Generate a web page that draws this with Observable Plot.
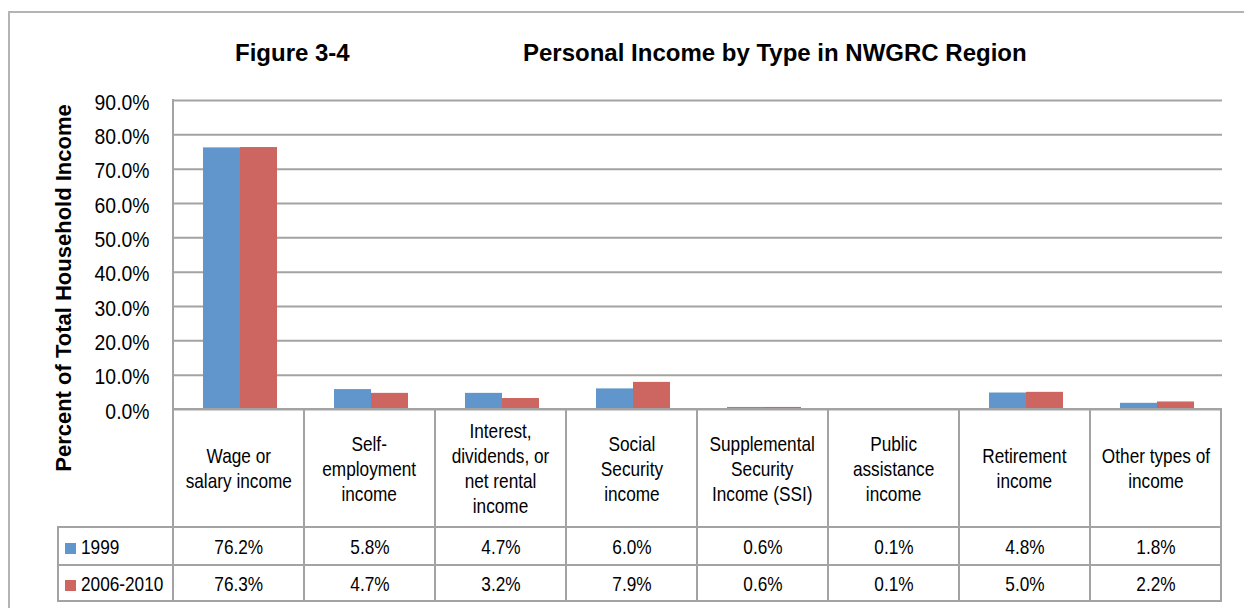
<!DOCTYPE html>
<html><head><meta charset="utf-8">
<script src="https://cdn.jsdelivr.net/npm/d3@7"></script>
<script src="https://cdn.jsdelivr.net/npm/@observablehq/plot@0.6"></script>
<style>
body{margin:0;background:#fff;}
#wrap{position:relative;width:1244px;height:608px;overflow:hidden;font-family:"Liberation Sans",Arial,sans-serif;color:#000;}
#outer{position:absolute;left:8px;top:11px;width:1300px;height:700px;border:2px solid #b4b4b4;box-sizing:border-box;}
.title{position:absolute;top:41px;font-weight:bold;font-size:24px;line-height:24px;white-space:nowrap;}
#ylabel{position:absolute;font-weight:bold;font-size:22px;line-height:22px;white-space:nowrap;transform:translate(-50%,-50%) rotate(-90deg);}
#chart{position:absolute;left:0;top:0;}
#tbl{position:absolute;border-collapse:collapse;table-layout:fixed;font-family:"Liberation Sans",Arial,sans-serif;font-size:21px;}
#tbl td{border:2px solid #a3a3a3;text-align:center;vertical-align:middle;padding:0;line-height:25px;overflow:visible;white-space:nowrap;}
#tbl td.blank{border-top:none;border-left:none;}
#tbl td.leg{text-align:left;padding-left:6px;}
.n{display:inline-block;transform:scaleX(0.82);white-space:nowrap;margin:0 -30px;}
.nl{display:inline-block;transform:scaleX(0.82);transform-origin:0 50%;white-space:nowrap;}
.sw{display:inline-block;width:11px;height:11px;margin-right:5px;vertical-align:0px;}
#vline{position:absolute;border-left:2px solid #a3a3a3;}
</style></head>
<body>
<div id="wrap">
  <div id="outer"></div>
  <div class="title" style="left:235px">Figure 3-4</div>
  <div class="title" style="left:523px">Personal Income by Type in NWGRC Region</div>
  <div id="ylabel" style="left:64px;top:288px">Percent of Total Household Income</div>
  <div id="chart"></div>
</div>
<script>
const categories = ["Wage or salary income","Self-employment income","Interest, dividends, or net rental income","Social Security income","Supplemental Security Income (SSI)","Public assistance income","Retirement income","Other types of income"];
const categoryLines = [["Wage or","salary income"],["Self-","employment","income"],["Interest,","dividends, or","net rental","income"],["Social","Security","income"],["Supplemental","Security","Income (SSI)"],["Public","assistance","income"],["Retirement","income"],["Other types of","income"]];
const series = ["1999","2006-2010"];
const values1999 = [76.2,5.8,4.7,6.0,0.6,0.1,4.8,1.8];
const values2006 = [76.3,4.7,3.2,7.9,0.6,0.1,5.0,2.2];
const yTicks = [0,10,20,30,40,50,60,70,80,90];
const colors = ["#6096CB","#CD6660"];
const gridColor = "#a3a3a3";

const data = categories.flatMap((c,i)=>[
  {cat:c, series:series[0], value:values1999[i]},
  {cat:c, series:series[1], value:values2006[i]}
]);
const fmt = d => d.toFixed(1) + "%";

const plot = Plot.plot({
  width:1244, height:608,
  marginTop:100, marginBottom:199, marginLeft:173, marginRight:21,
  style:{fontFamily:'"Liberation Sans",Arial,sans-serif', fontSize:"22px", background:"transparent"},
  fx:{domain:categories, padding:0, axis:null, label:null},
  x:{domain:series, paddingInner:0, paddingOuter:0.75, axis:null, label:null},
  y:{domain:[0,90], axis:null, label:null},
  color:{domain:series, range:colors},
  marks:[
    Plot.ruleY(yTicks, {stroke:gridColor, strokeWidth:2, strokeOpacity:1}),
    Plot.barY(data, {fx:"cat", x:"series", y:"value", fill:"series", inset:0}),
    Plot.axisY(yTicks, {tickSize:0, tickPadding:25, tickFormat:fmt, label:null, fontSize:22, dy:2, fill:"#000"})
  ]
});
document.getElementById("chart").appendChild(plot);

// condense the tick labels (narrow face look)
plot.querySelectorAll('g[aria-label="y-axis tick label"] text').forEach(t => {
  const L = t.getComputedTextLength();
  t.setAttribute("textLength", (L * 0.88).toFixed(2));
  t.setAttribute("lengthAdjust", "spacingAndGlyphs");
});

const fx = plot.scale("fx");
const y = plot.scale("y");
const left = fx.range[0], right = fx.range[1];
const y0 = y.apply(0), yTop = y.apply(90);
const legendLeft = 58;

// vertical axis line of the plot area
const vl = document.createElement("div");
vl.id = "vline";
vl.style.left = (left - 1) + "px";
vl.style.top = (yTop - 1) + "px";
vl.style.height = (y0 - yTop + 2) + "px";
document.getElementById("wrap").appendChild(vl);

// data table
const tbl = document.createElement("table");
tbl.id = "tbl";
tbl.style.left = (legendLeft - 1) + "px";
tbl.style.top = (y0 - 1) + "px";
const cg = document.createElement("colgroup");
const c0 = document.createElement("col"); c0.style.width = (left - legendLeft) + "px"; cg.appendChild(c0);
categories.forEach(()=>{ const c = document.createElement("col"); c.style.width = fx.step + "px"; cg.appendChild(c); });
tbl.appendChild(cg);
tbl.style.width = (right - legendLeft) + "px";

const r0 = tbl.insertRow();
r0.style.height = "118px";
const b = r0.insertCell(); b.className = "blank";
categoryLines.forEach(lines => {
  const td = r0.insertCell();
  const sp = document.createElement("span"); sp.className = "n";
  lines.forEach((s, j) => { if (j) sp.appendChild(document.createElement("br")); sp.appendChild(document.createTextNode(s)); });
  td.appendChild(sp);
});

[[values1999, 38],[values2006, 36]].forEach(([vals,h],k)=>{
  const r = tbl.insertRow();
  r.style.height = h + "px";
  const td = r.insertCell(); td.className = "leg";
  const sw = document.createElement("span"); sw.className = "sw"; sw.style.background = colors[k];
  const tx = document.createElement("span"); tx.className = "nl"; tx.textContent = series[k];
  td.appendChild(sw); td.appendChild(tx);
  vals.forEach(v => { const c = r.insertCell(); const sp = document.createElement("span"); sp.className = "n"; sp.textContent = fmt(v); c.appendChild(sp); });
});
document.getElementById("wrap").appendChild(tbl);
</script>
</body></html>
